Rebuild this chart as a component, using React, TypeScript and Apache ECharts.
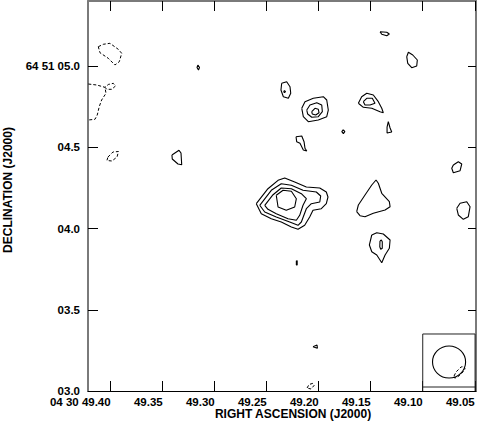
import React, { useEffect, useRef } from "react";
import * as echarts from "echarts";

// Axis ticks (RA seconds of 04h30m, Dec arcsec of +64d51m)
const raTicks = [49.4, 49.35, 49.3, 49.25, 49.2, 49.15, 49.1, 49.05];
const decTicks = [3.0, 3.5, 4.0, 4.5, 5.0];
const raRange = [49.0488, 49.4218];
const decRange = [3.0, 5.4];

// Positive contours: [RA s, Dec arcsec]
const mainC4 = [[49.26,4.1526],[49.2488,4.2449],[49.2391,4.2966],[49.2327,4.3108],[49.2231,4.2862],[49.2119,4.2554],[49.199,4.2492],[49.1927,4.2246],[49.1911,4.1938],[49.1927,4.1526],[49.1975,4.1218],[49.2055,4.112],[49.2087,4.0708],[49.2135,4.0197],[49.2199,3.9951],[49.2263,4.0092],[49.236,4.04],[49.2456,4.0603],[49.2552,4.0911]];
const mainC3 = [[49.2567,4.1428],[49.2456,4.2351],[49.236,4.2757],[49.2263,4.2658],[49.2151,4.2351],[49.2023,4.2246],[49.1981,4.2],[49.199,4.1631],[49.2071,4.1526],[49.2119,4.1218],[49.2167,4.04],[49.2199,4.0197],[49.2279,4.04],[49.2408,4.0708],[49.2519,4.1015]];
const mainC2 = [[49.2519,4.1428],[49.2439,4.208],[49.236,4.2492],[49.2263,4.2449],[49.2167,4.2142],[49.2119,4.1834],[49.2151,4.1428],[49.2183,4.0812],[49.2215,4.0505],[49.2295,4.0603],[49.2408,4.0911],[49.2488,4.1182]];
const mainC1 = [[49.2408,4.2043],[49.2343,4.2351],[49.2263,4.2289],[49.2215,4.1834],[49.2231,4.1323],[49.2312,4.112],[49.2391,4.1323]];
const srcB3 = [[49.2163,4.7397],[49.2132,4.7803],[49.2052,4.8012],[49.1956,4.8111],[49.1923,4.7908],[49.1908,4.7292],[49.1923,4.688],[49.2004,4.6677],[49.21,4.6572],[49.2148,4.688]];
const srcB2 = [[49.2115,4.7292],[49.2084,4.76],[49.2019,4.7742],[49.1971,4.76],[49.1965,4.7188],[49.2004,4.688],[49.2067,4.6843],[49.2106,4.7046]];
const srcB1 = [[49.2067,4.7188],[49.2036,4.7397],[49.2004,4.7335],[49.1997,4.7126],[49.2029,4.6985],[49.2062,4.7046]];
const srcC2 = [[49.1619,4.7705],[49.1587,4.8111],[49.1538,4.832],[49.1475,4.8215],[49.1427,4.7803],[49.1394,4.7397],[49.1379,4.7126],[49.1411,4.7188],[49.149,4.7397],[49.1571,4.7458]];
const srcC1 = [[49.1571,4.7803],[49.1538,4.8012],[49.1485,4.8012],[49.1459,4.7705],[49.1507,4.76],[49.1555,4.76]];
const blobD = [[49.2356,4.8935],[49.2308,4.9034],[49.2276,4.8726],[49.2269,4.832],[49.2292,4.8012],[49.234,4.8111],[49.2363,4.8523]];
const blobDcore = [[49.2338,4.8418],[49.2329,4.848],[49.2319,4.8418],[49.2329,4.8357]];
const diamondE = [[49.1763,4.608],[49.1749,4.5957],[49.1763,4.5834],[49.1778,4.5957]];
const spikeF = [[49.1331,4.6572],[49.1314,4.6185],[49.1298,4.5938],[49.1343,4.5877],[49.1343,4.6246]];
const blobG = [[49.2218,4.5649],[49.2163,4.5692],[49.2141,4.5342],[49.2132,4.4935],[49.2115,4.4769],[49.2148,4.4831],[49.218,4.5243],[49.2212,4.5342]];
const blobH = [[49.1411,5.2111],[49.1346,5.2074],[49.1321,5.1969],[49.1346,5.1865],[49.1394,5.1951]];
const blobI = [[49.1154,5.0572],[49.1138,5.0843],[49.1096,5.0677],[49.1052,5.0369],[49.1058,5.0],[49.1106,4.9895],[49.1144,5.0166]];
const blobJ = [[49.0706,4.3908],[49.0658,4.4111],[49.0625,4.3969],[49.0641,4.3557],[49.0706,4.3434],[49.0721,4.3705]];
const triK = [[49.1635,4.1034],[49.1619,4.1446],[49.1555,4.2062],[49.149,4.2677],[49.1449,4.2985],[49.1427,4.2782],[49.1394,4.2166],[49.1321,4.1649],[49.1314,4.1342],[49.1362,4.1138],[49.1475,4.0935],[49.1555,4.0726],[49.1603,4.0788]];
const blobL = [[49.0673,4.1243],[49.0641,4.1551],[49.0577,4.1649],[49.0545,4.1342],[49.0562,4.0726],[49.061,4.0566],[49.0658,4.0831]];
const dropM2 = [[49.149,3.96],[49.1442,3.9742],[49.1379,3.9662],[49.1314,3.9292],[49.1321,3.8782],[49.1362,3.8369],[49.1394,3.7895],[49.1442,3.8369],[49.149,3.8572],[49.1513,3.8985]];
const dropM1 = [[49.1411,3.9231],[49.1398,3.9292],[49.1389,3.9188],[49.1389,3.8782],[49.1404,3.872],[49.1413,3.888]];
const dashN = [[49.2215,3.8018],[49.2207,3.8018],[49.2207,3.7754],[49.2215,3.7754]];
const triO = [[49.2055,3.2726],[49.2016,3.2831],[49.2013,3.2628]];
const smallP = [[49.3411,4.4523],[49.3343,4.4812],[49.3324,4.4646],[49.3317,4.3926],[49.3353,4.3969],[49.3408,4.4277]];
const dotQ = [[49.3161,5.0062],[49.3146,4.9908],[49.3156,4.9754],[49.317,4.9908]];

// Negative contours (dashed)
const negA = [[49.4119,5.1188],[49.4071,5.1335],[49.4007,5.1397],[49.3927,5.1028],[49.3894,5.0782],[49.3917,5.0265],[49.3959,5.0062],[49.4023,5.0474],[49.4103,5.0818]];
const negB = [[49.4215,4.8892],[49.4135,4.8831],[49.4055,4.8689],[49.4023,4.8862],[49.3975,4.8935],[49.3954,4.8769],[49.399,4.8566],[49.4038,4.8566],[49.4055,4.8689],[49.4045,4.832],[49.4087,4.7908],[49.411,4.7495],[49.4129,4.6985],[49.4151,4.672],[49.4215,4.6677]];
const negC = [[49.4026,4.44],[49.3978,4.4708],[49.3925,4.4738],[49.3939,4.44],[49.3988,4.4154],[49.4036,4.4185]];
const negD = [[49.2112,3.0185],[49.2093,3.04],[49.2055,3.0474],[49.2045,3.0338],[49.2074,3.0123]];
const negE = [[49.0699,3.0923],[49.068,3.1169],[49.0632,3.1477],[49.0603,3.1508],[49.0593,3.1354],[49.0622,3.1108],[49.067,3.0831],[49.0694,3.08]];

// Beam: centre, semi-axes (RA s, Dec arcsec), and its box
const beamCenter = [49.0747, 3.1785];
const beamSemiAxes = [0.0159, 0.0985];
const beamBoxRA = [49.1, 49.0497];
const beamBoxDec = [3.0246, 3.3508];

const solidClosed = [mainC4, mainC3, mainC2, mainC1, srcB3, srcB2, srcB1, srcC2, srcC1, blobD, blobDcore, diamondE, spikeF, blobG, blobH, blobI, blobJ, triK, blobL, dropM2, dropM1, dashN, triO, smallP, dotQ];
const dashedClosed = [negA, negC, negD, negE];
const dashedOpen = [negB];

const FONT = "'Liberation Sans', Arial, Helvetica, sans-serif";

export default function App() {
  const ref = useRef<HTMLDivElement>(null);
  useEffect(() => {
    document.body.style.margin = "0";
    const chart = echarts.init(ref.current!, null, { renderer: "svg" });
    const close = (p: number[][]) => p.concat([p[0]]);
    const series: any[] = [];
    solidClosed.forEach((c) =>
      series.push({ type: "line", data: close(c), symbol: "none", silent: true, lineStyle: { color: "#000", width: 1.1 } })
    );
    dashedClosed.forEach((c) =>
      series.push({ type: "line", data: close(c), symbol: "none", silent: true, lineStyle: { color: "#000", width: 1, type: [3, 2] } })
    );
    dashedOpen.forEach((c) =>
      series.push({ type: "line", data: c, symbol: "none", silent: true, lineStyle: { color: "#000", width: 1, type: [3, 2] } })
    );
    series.push({
      type: "custom",
      silent: true,
      data: [[beamCenter[0], beamCenter[1]]],
      renderItem: (_p: any, api: any) => {
        const c = api.coord([beamCenter[0], beamCenter[1]]);
        const s = api.size([beamSemiAxes[0], beamSemiAxes[1]]);
        const rx = Math.abs(s[0]);
        const ry = Math.abs(s[1]);
        const a = api.coord([beamBoxRA[0], beamBoxDec[1]]);
        const b = api.coord([beamBoxRA[1], beamBoxDec[0]]);
        const a0 = api.coord([beamBoxRA[0], decRange[0]]);
        const b0 = api.coord([beamBoxRA[1], decRange[0]]);
        const d = `M ${c[0] - rx} ${c[1]} A ${rx} ${ry} 0 1 0 ${c[0] + rx} ${c[1]} A ${rx} ${ry} 0 1 0 ${c[0] - rx} ${c[1]} Z`;
        return {
          type: "group",
          children: [
            { type: "rect", shape: { x: a[0], y: a[1], width: b[0] - a[0], height: b[1] - a[1] }, style: { fill: "none", stroke: "#222", lineWidth: 1 } },
            { type: "line", shape: { x1: a[0], y1: b[1], x2: a0[0], y2: a0[1] }, style: { stroke: "#222", lineWidth: 1 } },
            { type: "line", shape: { x1: b[0], y1: b[1], x2: b0[0], y2: b0[1] }, style: { stroke: "#222", lineWidth: 1 } },
            { type: "path", shape: { pathData: d }, style: { fill: "none", stroke: "#000", lineWidth: 1.1 } },
          ],
        };
      },
    });

    const raFmt = (v: number) => (Math.abs(v - 49.4) < 1e-6 ? "04 30 49.40" : v.toFixed(2));
    const decFmt = (v: number) => (Math.abs(v - 5) < 1e-6 ? "64 51 05.0" : "0" + v.toFixed(1));
    const labelStyle = { fontFamily: FONT, fontWeight: "bold" as const, fontSize: 11.5, color: "#000" };

    chart.setOption({
      animation: false,
      grid: { left: 88, top: 1, right: 4, bottom: 30 },
      xAxis: [
        {
          type: "value", position: "bottom", min: raRange[0], max: raRange[1], inverse: true,
          axisLine: { show: true, onZero: false, lineStyle: { color: "#000", width: 1 } },
          axisTick: { show: true, inside: true, length: 10, customValues: raTicks, lineStyle: { color: "#000", width: 1 } },
          axisLabel: { ...labelStyle, customValues: raTicks, formatter: raFmt, align: "right", margin: 5 },
          splitLine: { show: false },
        },
        {
          type: "value", position: "top", min: raRange[0], max: raRange[1], inverse: true,
          axisLine: { show: true, onZero: false, lineStyle: { color: "#7a7a7a", width: 2 } },
          axisTick: { show: true, inside: true, length: 10, customValues: raTicks, lineStyle: { color: "#000", width: 1 } },
          axisLabel: { show: false },
          splitLine: { show: false },
        },
      ],
      yAxis: [
        {
          type: "value", position: "left", min: decRange[0], max: decRange[1],
          axisLine: { show: true, onZero: false, lineStyle: { color: "#7a7a7a", width: 2 } },
          axisTick: { show: true, inside: true, length: 10, customValues: decTicks, lineStyle: { color: "#000", width: 1 } },
          axisLabel: { ...labelStyle, customValues: decTicks, formatter: decFmt, margin: 8 },
          splitLine: { show: false },
        },
        {
          type: "value", position: "right", min: decRange[0], max: decRange[1],
          axisLine: { show: true, onZero: false, lineStyle: { color: "#7a7a7a", width: 2 } },
          axisTick: { show: true, inside: true, length: 8, customValues: decTicks, lineStyle: { color: "#000", width: 1 } },
          axisLabel: { show: false },
          splitLine: { show: false },
        },
      ],
      graphic: [
        { type: "text", x: 293, y: 414, style: { text: "RIGHT ASCENSION (J2000)", fontFamily: FONT, fontWeight: "bold", fontSize: 12, fill: "#000", align: "center", verticalAlign: "middle" } },
        { type: "text", x: 8, y: 190, rotation: Math.PI / 2, style: { text: "DECLINATION (J2000)", fontFamily: FONT, fontWeight: "bold", fontSize: 12, fill: "#000", align: "center", verticalAlign: "middle" } },
      ],
      series,
    });
    return () => chart.dispose();
  }, []);
  return <div ref={ref} style={{ width: 480, height: 421 }} />;
}
